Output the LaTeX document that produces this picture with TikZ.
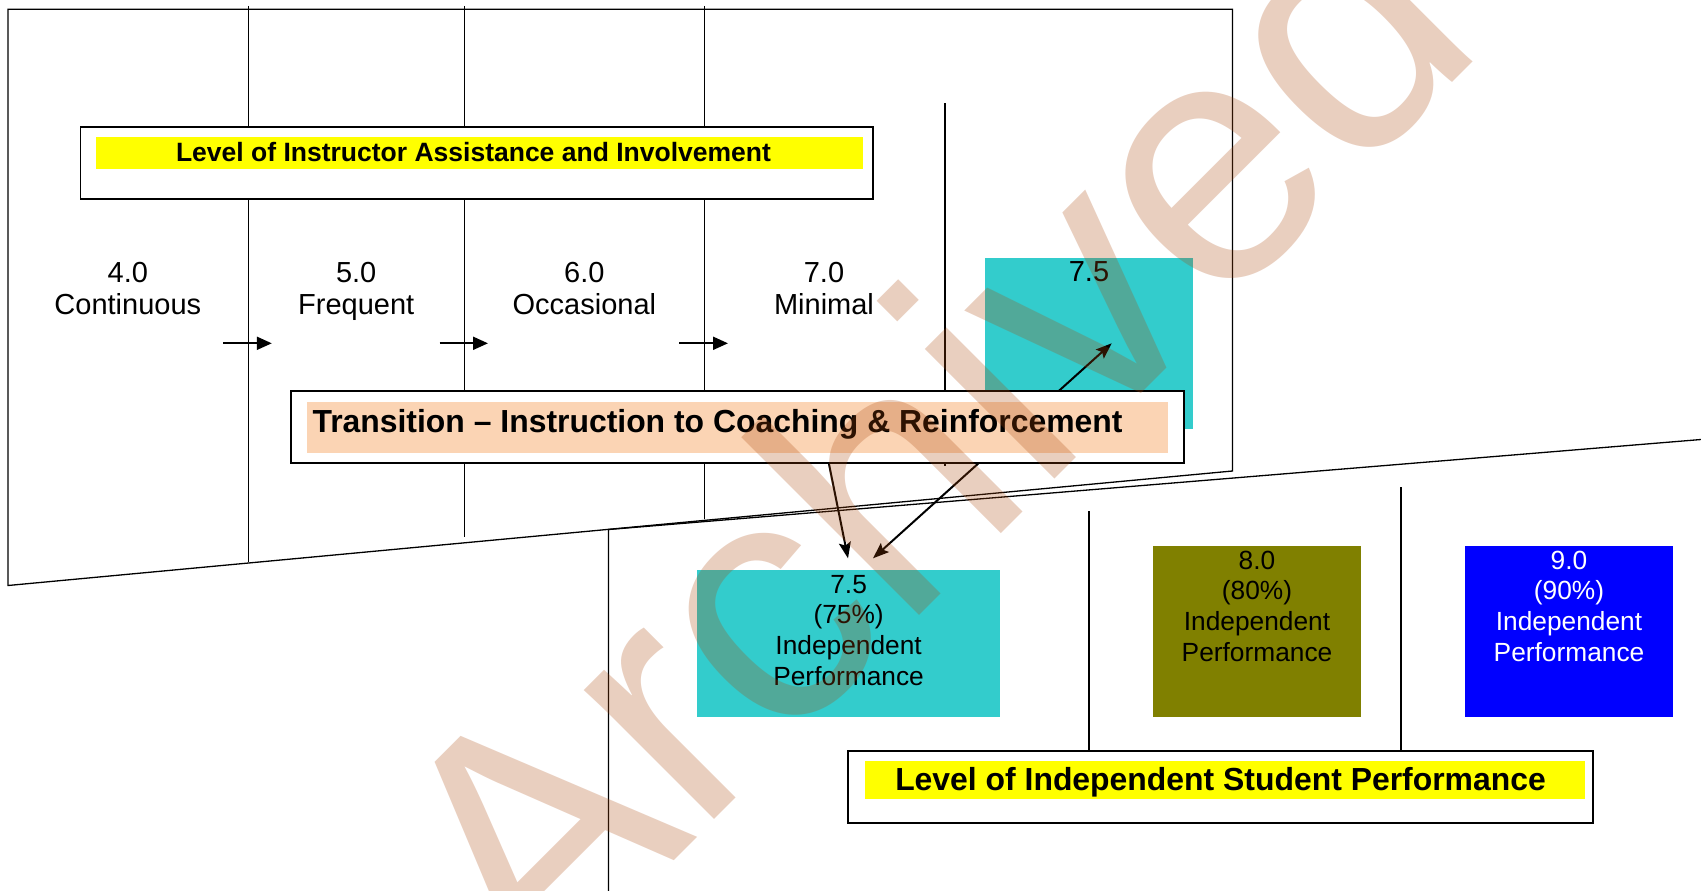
\documentclass[tikz,border=0pt]{standalone}
\usepackage{fontspec}
\newfontfamily\arial{Liberation Sans}
\usetikzlibrary{arrows.meta}
\definecolor{turq}{HTML}{33CCCC}
\definecolor{olivebox}{HTML}{808000}
\definecolor{bluebox}{HTML}{0000FF}
\definecolor{hilite}{HTML}{FFFF00}
\definecolor{peach}{HTML}{FBD4B4}
\definecolor{wmark}{RGB}{170,70,10}
\begin{document}
\begin{tikzpicture}[x=1pt,y=-1pt,
  frameline/.style={line width=1.3pt, draw=black},
  titlebox/.style={draw=black, line width=1.8pt, fill=white, inner sep=0},
  plainbox/.style={draw=none, inner sep=0},
  lbl/.style={font=\arial\fontsize{29}{32.2}\selectfont, align=center, inner sep=0},
  boxtxt/.style={font=\arial\fontsize{26.3}{30.6}\selectfont, align=center, inner sep=0},
  titletxt/.style={font=\arial\bfseries\fontsize{31.9}{36}\selectfont, inner sep=0},
  smalltitle/.style={font=\arial\bfseries\fontsize{26.5}{30}\selectfont, inner sep=0},
  steparrow/.style={line width=2pt, -{Triangle[length=15pt,width=13pt]}},
  linkarrow/.style={line width=2pt, draw=black},
  wm/.style={font=\arial\fontsize{347}{347}\selectfont, text=wmark, text opacity=0.26, inner sep=0}]
\useasboundingbox (0,0) rectangle (1701,891);
\fill[white] (0,0) rectangle (1701,891);

% upper frame
\coordinate (uTL) at (8,9.3);
\coordinate (uTR) at (1232.5,9.3);
\coordinate (uBR) at (1232.5,471);
\coordinate (uBL) at (8,585.5);
\draw[frameline] (uTL) -- (uTR) -- (uBR) -- (uBL) -- cycle;
\draw[frameline] (248.3,6) -- (248.3,562);
\draw[frameline] (464.3,6) -- (464.3,537);
\draw[frameline] (704.4,6) -- (704.4,519);
\draw[frameline] (945,103) -- (945,466);

% lower frame
\coordinate (lTL) at (608.5,529.5);
\coordinate (lTR) at (1701,439.5);
\coordinate (lBL) at (608.5,891);
\draw[frameline] (lBL) -- (lTL) -- (lTR);
\draw[frameline] (1089,511) -- (1089,751);
\draw[frameline] (1401,487) -- (1401,751);

% instructor title box
\node[titlebox, minimum width=792.2pt, minimum height=72.3pt] (instrbox) at (476.5,163.15) {};
\node[plainbox, fill=hilite, minimum width=766.9pt, minimum height=31.7pt] (instrhl) at (479.35,152.85) {};
\node[smalltitle, anchor=base] (instrtxt) at (473.5,161.7) {Level of Instructor Assistance and Involvement};

% column labels (anchor = baseline of last line)
\node[lbl, anchor=base] (c4) at (127.8,314.5) {4.0\\Continuous};
\node[lbl, anchor=base] (c5) at (356.2,314.5) {5.0\\Frequent};
\node[lbl, anchor=base] (c6) at (584.4,314.5) {6.0\\Occasional};
\node[lbl, anchor=base] (c7) at (824,314.5) {7.0\\Minimal};

% step arrows
\coordinate (s1a) at (223,343.3); \coordinate (s1b) at (271.8,343.3);
\coordinate (s2a) at (439.5,343.3); \coordinate (s2b) at (488,343.3);
\coordinate (s3a) at (679.4,343.3); \coordinate (s3b) at (728,343.3);
\draw[steparrow] (s1a) -- (s1b);
\draw[steparrow] (s2a) -- (s2b);
\draw[steparrow] (s3a) -- (s3b);

% coloured boxes
\node[plainbox, fill=turq, minimum width=208pt, minimum height=171.3pt] (cyanup) at (1089,343.35) {};
\node[lbl, anchor=base] (cyanuptxt) at (1089,281.7) {7.5};
\node[plainbox, fill=turq, minimum width=303.2pt, minimum height=146.7pt] (cyanlow) at (848.4,643.35) {};
\node[boxtxt, anchor=base] (cyanlowtxt) at (848.6,685.1) {7.5\\(75\%)\\Independent\\Performance};
\node[plainbox, fill=olivebox, minimum width=208.5pt, minimum height=170.7pt] (olive) at (1257.05,631.35) {};
\node[boxtxt, anchor=base] (olivetxt) at (1257,661.1) {8.0\\(80\%)\\Independent\\Performance};
\node[plainbox, fill=bluebox, minimum width=208.5pt, minimum height=170.7pt] (blue) at (1569.05,631.35) {};
\node[boxtxt, anchor=base, text=white] (bluetxt) at (1569,661.1) {9.0\\(90\%)\\Independent\\Performance};

% link arrows
\coordinate (tipup) at (1111.7,343.3);
\coordinate (tiplow) at (873,558.3);
\coordinate (tiplow2) at (848,558.3);
\draw[linkarrow, {Stealth[length=16pt,width=12pt,inset=3pt]}-{Stealth[length=16pt,width=12pt,inset=3pt]}] (tiplow) -- (tipup);

% transition box
\node[titlebox, minimum width=893.3pt, minimum height=72.3pt] (transbox) at (737.35,426.85) {};
\node[plainbox, fill=peach, minimum width=861pt, minimum height=50.7pt] (transhl) at (737.5,427.35) {};
\node[titletxt, anchor=base] (transtxt) at (717.5,432.4) {Transition – Instruction to Coaching \& Reinforcement};
\coordinate (transout) at (829,464);
\draw[linkarrow, -{Stealth[length=16pt,width=12pt,inset=3pt]}] (transout) -- (tiplow2);

% independent performance box
\node[titlebox, minimum width=744.6pt, minimum height=72.6pt] (indbox) at (1220.3,787) {};
\node[plainbox, fill=hilite, minimum width=720pt, minimum height=38pt] (indhl) at (1225,780) {};
\node[titletxt, anchor=base] (indtxt) at (1220.5,790.3) {Level of Independent Student Performance};

% watermark
\node[wm, rotate=45, anchor=base west] (wmk) at (534,1000.3) {Archived};
\end{tikzpicture}
\end{document}
